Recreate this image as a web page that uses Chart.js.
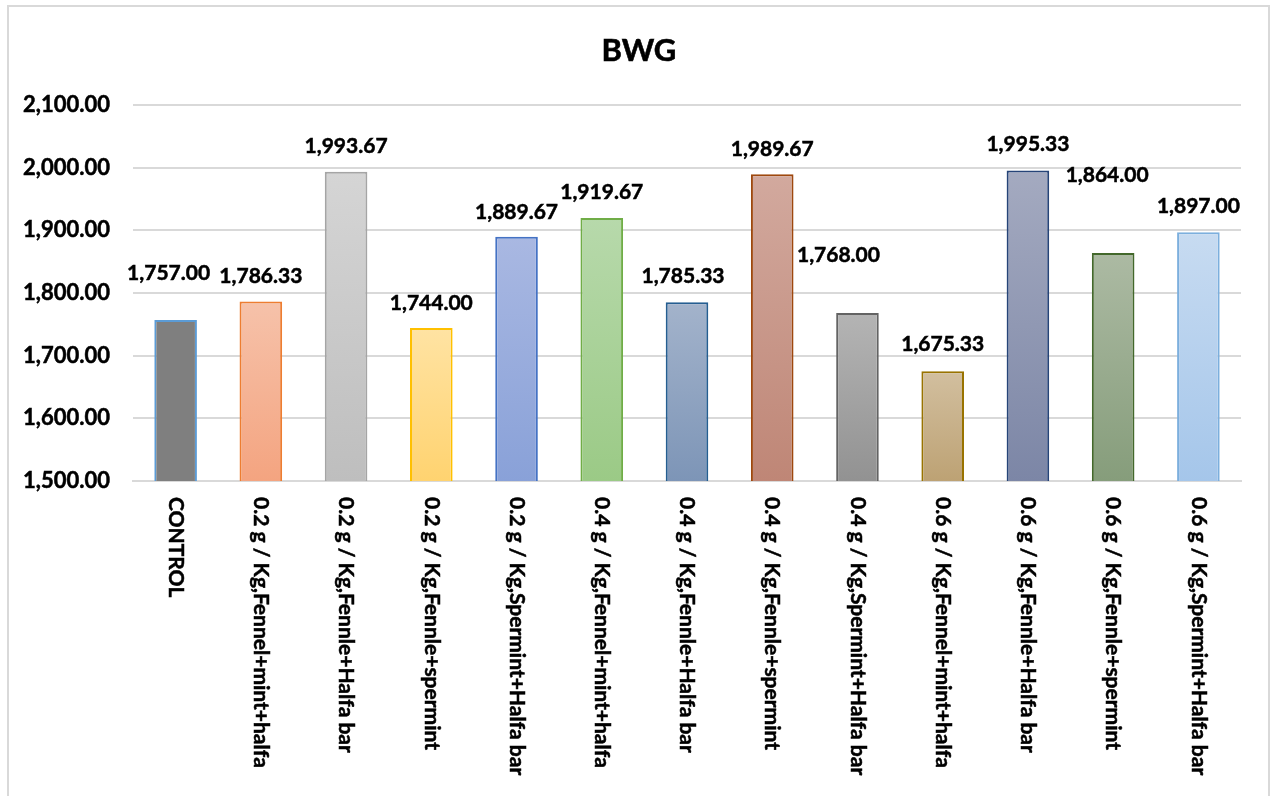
<!DOCTYPE html>
<html>
<head>
<meta charset="utf-8">
<title>BWG</title>
<script src="https://cdn.jsdelivr.net/npm/chart.js@4/dist/chart.umd.min.js"></script>
<style>
  html, body { margin: 0; padding: 0; background: #ffffff; }
  #wrap { width: 1270px; height: 796px; position: relative; }
</style>
</head>
<body>
<div id="wrap"><canvas id="c" width="1270" height="796"></canvas></div>
<script>
// Treatment groups
const categories = [
  'CONTROL',
  '0.2 g / Kg,Fennel+mint+halfa',
  '0.2 g / Kg,Fennle+Halfa bar',
  '0.2 g / Kg,Fennle+spermint',
  '0.2 g / Kg,Spermint+Halfa bar',
  '0.4 g / Kg,Fennel+mint+halfa',
  '0.4 g / Kg,Fennle+Halfa bar',
  '0.4 g / Kg,Fennle+spermint',
  '0.4 g / Kg,Spermint+Halfa bar',
  '0.6 g / Kg,Fennel+mint+halfa',
  '0.6 g / Kg,Fennle+Halfa bar',
  '0.6 g / Kg,Fennle+spermint',
  '0.6 g / Kg,Spermint+Halfa bar'
];

// Body weight gain per group
const bwgValues = [1757.00, 1786.33, 1993.67, 1744.00, 1889.67, 1919.67, 1785.33,
                   1989.67, 1768.00, 1675.33, 1995.33, 1864.00, 1897.00];

// Value axis ticks
const yTicks = [1500, 1600, 1700, 1800, 1900, 2000, 2100];

// Bar fills: [top colour, bottom colour, outline]
const barStyles = [
  ['#7f7f7f', '#7f7f7f', '#5b9bd5'],
  ['#f6c2aa', '#f4a480', '#ed7d31'],
  ['#d5d5d5', '#bebebe', '#a5a5a5'],
  ['#ffe3a3', '#ffd370', '#ffc000'],
  ['#a9b8e2', '#89a1d8', '#4472c4'],
  ['#b7d9ab', '#9bca86', '#70ad47'],
  ['#a3b3cb', '#7d95b7', '#255e91'],
  ['#d2a99e', '#bf8676', '#9e480e'],
  ['#b4b4b4', '#929292', '#636363'],
  ['#d2bf9f', '#bda274', '#997300'],
  ['#a4aac0', '#7c86a6', '#264478'],
  ['#acbaa3', '#869d7b', '#43682b'],
  ['#c7dbf1', '#a5c6ea', '#7cafdd']
];

// Hand-placed value labels: [dx, extra lift] in px
const labelNudge = [[-7, 22], [0, 0], [0, 0], [0, 0], [0, 0], [0, 1], [-4, 1],
                    [0, 0], [-19, 33], [0, 2], [0, 1], [-6, 53], [0, 1]];

const FONT = 'Lato, "Open Sans", "Liberation Sans", sans-serif';
const fmt = v => v.toLocaleString('en-US', { minimumFractionDigits: 2, maximumFractionDigits: 2 });

// heavy text: fill plus a thin outline in the same colour
function heavyText(ctx, t, x, y) {
  ctx.fillText(t, x, y);
  ctx.strokeText(t, x, y);
}

const frame = {
  id: 'frame',
  beforeDraw(chart) {
    const ctx = chart.ctx;
    ctx.save();
    ctx.fillStyle = '#ffffff';
    ctx.fillRect(0, 0, chart.width, chart.height);
    ctx.strokeStyle = '#d9d9d9';
    ctx.lineWidth = 2;
    ctx.beginPath();
    ctx.moveTo(8, 800);
    ctx.lineTo(8, 6);
    ctx.lineTo(1269, 6);
    ctx.lineTo(1269, 800);
    ctx.stroke();
    // title
    ctx.fillStyle = '#000000';
    ctx.strokeStyle = '#000000';
    ctx.lineWidth = 0.6;
    ctx.font = 'bold 31px ' + FONT;
    ctx.textAlign = 'center';
    ctx.textBaseline = 'middle';
    heavyText(ctx, 'BWG', 639, 51);
    ctx.restore();
  },
  afterDatasetsDraw(chart) {
    const ctx = chart.ctx;
    const meta = chart.getDatasetMeta(0);
    const xs = chart.scales.x;
    ctx.save();
    ctx.fillStyle = '#000000';
    ctx.strokeStyle = '#000000';
    ctx.lineWidth = 0.5;
    // value labels
    ctx.font = 'bold 21px ' + FONT;
    ctx.textAlign = 'center';
    ctx.textBaseline = 'middle';
    meta.data.forEach((bar, i) => {
      const n = labelNudge[i];
      heavyText(ctx, fmt(bwgValues[i]), bar.x + n[0], bar.y - 25 - n[1]);
    });
    // category labels, rotated to read downward
    ctx.font = 'bold 21px ' + FONT;
    ctx.textAlign = 'left';
    categories.forEach((c, i) => {
      const x = xs.getPixelForValue(i);
      ctx.save();
      ctx.translate(x, 497);
      ctx.rotate(Math.PI / 2);
      heavyText(ctx, c, 0, 0);
      ctx.restore();
    });
    ctx.restore();
  }
};

function barFill(context) {
  const chart = context.chart;
  const i = context.dataIndex;
  const s = barStyles[i];
  const ys = chart.scales.y;
  if (!chart.chartArea || !ys || ys.bottom === undefined) return s[1];
  const top = ys.getPixelForValue(bwgValues[i]);
  const bottom = ys.getPixelForValue(yTicks[0]);
  if (!isFinite(top) || !isFinite(bottom) || top === bottom) return s[1];
  const g = chart.ctx.createLinearGradient(0, top, 0, bottom);
  g.addColorStop(0, s[0]);
  g.addColorStop(1, s[1]);
  return g;
}

new Chart(document.getElementById('c'), {
  type: 'bar',
  data: {
    labels: categories,
    datasets: [{
      data: bwgValues,
      backgroundColor: barFill,
      borderColor: barStyles.map(s => s[2]),
      borderWidth: 2,
      borderSkipped: 'bottom',
      barPercentage: 0.5,
      categoryPercentage: 1.0
    }]
  },
  options: {
    responsive: false,
    animation: false,
    events: [],
    layout: { padding: { left: 0, right: 29, top: 105, bottom: 315 } },
    plugins: {
      legend: { display: false },
      title: { display: false },
      tooltip: { enabled: false }
    },
    scales: {
      x: {
        grid: { display: false },
        border: { display: true, color: '#d9d9d9', width: 2 },
        ticks: { display: false },
        afterFit(s) { s.height = 0; }
      },
      y: {
        min: yTicks[0],
        max: yTicks[yTicks.length - 1],
        afterBuildTicks(s) { s.ticks = yTicks.map(v => ({ value: v })); },
        grid: { color: '#d9d9d9', lineWidth: 2, drawTicks: false },
        border: { display: false },
        ticks: {
          padding: 23,
          color: '#000000',
          textStrokeColor: '#000000',
          textStrokeWidth: 0.5,
          font: { family: FONT, size: 22, weight: 'bold' },
          callback: v => fmt(v)
        },
        afterFit(s) { s.width = 133; }
      }
    }
  },
  plugins: [frame]
});
</script>
</body>
</html>
